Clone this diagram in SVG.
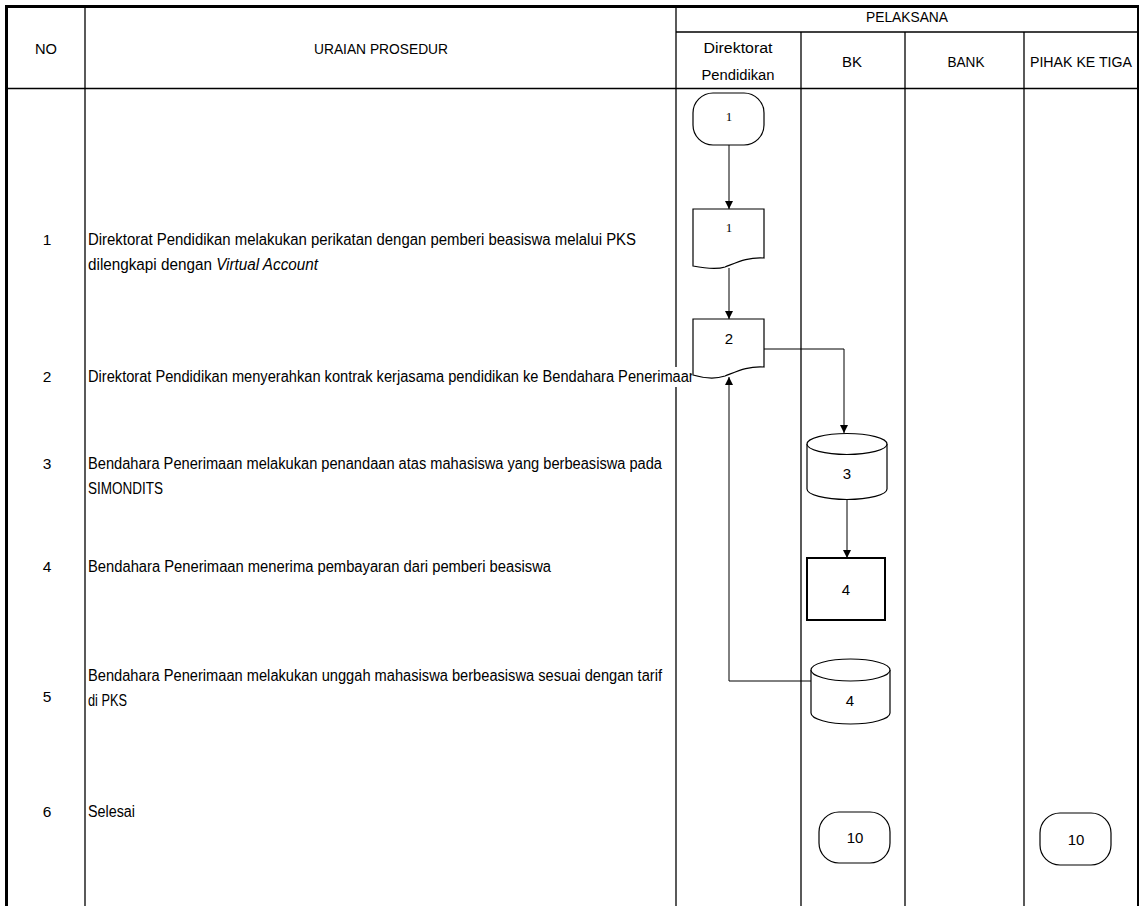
<svg xmlns="http://www.w3.org/2000/svg" width="1141" height="906" viewBox="0 0 1141 906">
<style>
.grid{stroke:#000;stroke-width:1.3;fill:none}
.frame{stroke:#000;stroke-width:3;fill:none}
.t{font-family:"Liberation Sans",Arial,sans-serif;font-size:16px;fill:#000}
.h{font-family:"Liberation Sans",Arial,sans-serif;font-size:15.5px;fill:#000;text-anchor:middle}
.ns{font-family:"Liberation Serif","Times New Roman",serif;font-size:13px;fill:#000;text-anchor:middle}
.nn{font-family:"Liberation Sans",Arial,sans-serif;font-size:15px;fill:#000;text-anchor:middle}
.shape{fill:#fff;stroke:#000;stroke-width:1.2}
.conn{stroke:#000;stroke-width:1;fill:none}
</style>
<defs>
<marker id="arr" viewBox="0 0 10 10" refX="10" refY="5" markerWidth="8" markerHeight="8" markerUnits="userSpaceOnUse" orient="auto">
<path d="M0,0 L10,5 L0,10 Z" fill="#000"/>
</marker>
<clipPath id="clipRow2"><rect x="85" y="360" width="607" height="35"/></clipPath>
</defs>
<rect width="1141" height="906" fill="#fff"/>
<g id="table">
<line class="grid" x1="85" y1="6" x2="85" y2="906"/>
<line class="grid" x1="676" y1="6" x2="676" y2="367"/>
<line class="grid" x1="676" y1="387" x2="676" y2="906"/>
<line class="grid" x1="801" y1="32" x2="801" y2="906"/>
<line class="grid" x1="905" y1="32" x2="905" y2="906"/>
<line class="grid" x1="1024" y1="32" x2="1024" y2="906"/>
<line class="grid" x1="676" y1="32" x2="1138" y2="32"/>
<line class="grid" x1="6" y1="88.5" x2="1138" y2="88.5"/>
<line class="frame" x1="6.5" y1="5" x2="6.5" y2="906"/>
<line class="frame" x1="5" y1="6.5" x2="1139" y2="6.5"/>
<line class="grid" x1="1138" y1="5" x2="1138" y2="906" style="stroke-width:2"/>
<text class="h" x="46" y="54" textLength="22" lengthAdjust="spacingAndGlyphs">NO</text>
<text class="h" x="381" y="54" textLength="134" lengthAdjust="spacingAndGlyphs">URAIAN PROSEDUR</text>
<text class="h" x="907" y="22" textLength="82" lengthAdjust="spacingAndGlyphs">PELAKSANA</text>
<text class="h" x="738" y="53" textLength="69" lengthAdjust="spacingAndGlyphs">Direktorat</text>
<text class="h" x="738" y="80" textLength="73" lengthAdjust="spacingAndGlyphs">Pendidikan</text>
<text class="h" x="852" y="67" textLength="20" lengthAdjust="spacingAndGlyphs">BK</text>
<text class="h" x="966" y="67" textLength="37" lengthAdjust="spacingAndGlyphs">BANK</text>
<text class="h" x="1081" y="67" textLength="102" lengthAdjust="spacingAndGlyphs">PIHAK KE TIGA</text>
</g>
<g id="rows">
<text class="h" x="47" y="245">1</text>
<text class="t" x="88" y="245" textLength="548" lengthAdjust="spacingAndGlyphs">Direktorat Pendidikan melakukan perikatan dengan pemberi beasiswa melalui PKS</text>
<text class="t" x="88" y="270" textLength="230" lengthAdjust="spacingAndGlyphs">dilengkapi dengan <tspan font-style="italic">Virtual Account</tspan></text>
<text class="h" x="47" y="382">2</text>
<rect x="676" y="367" width="17" height="20" fill="#fff"/>
<text class="t" x="88" y="382" textLength="609" lengthAdjust="spacingAndGlyphs" clip-path="url(#clipRow2)">Direktorat Pendidikan menyerahkan kontrak kerjasama pendidikan ke Bendahara Penerimaan</text>
<text class="h" x="47" y="469">3</text>
<text class="t" x="88" y="469" textLength="574" lengthAdjust="spacingAndGlyphs">Bendahara Penerimaan melakukan penandaan atas mahasiswa yang berbeasiswa pada</text>
<text class="t" x="88" y="494" textLength="75" lengthAdjust="spacingAndGlyphs">SIMONDITS</text>
<text class="h" x="47" y="572">4</text>
<text class="t" x="88" y="572" textLength="463" lengthAdjust="spacingAndGlyphs">Bendahara Penerimaan menerima pembayaran dari pemberi beasiswa</text>
<text class="h" x="47" y="702">5</text>
<text class="t" x="88" y="681" textLength="574" lengthAdjust="spacingAndGlyphs">Bendahara Penerimaan melakukan unggah mahasiswa berbeasiswa sesuai dengan tarif</text>
<text class="t" x="88" y="706" textLength="39" lengthAdjust="spacingAndGlyphs">di PKS</text>
<text class="h" x="47" y="817">6</text>
<text class="t" x="88" y="817" textLength="47" lengthAdjust="spacingAndGlyphs">Selesai</text>
</g>
<g id="connectors">
<line class="conn" x1="729" y1="145" x2="729" y2="209" marker-end="url(#arr)"/>
<line class="conn" x1="729" y1="268" x2="729" y2="319" marker-end="url(#arr)"/>
<polyline class="conn" points="764,349 844,349 844,433" marker-end="url(#arr)"/>
<line class="conn" x1="847" y1="500" x2="847" y2="558" marker-end="url(#arr)"/>
<polyline class="conn" points="811,681 729,681 729,377" marker-end="url(#arr)"/>
</g>
<g id="n-start">
<rect class="shape" x="693" y="93" width="71" height="52" rx="20" ry="20"/>
<text class="ns" x="729" y="121">1</text>
</g>
<g id="n-doc1">
<path class="shape" d="M693,209 H764 V258 C748,257 738,262 725,267 C716,270 703,268 693,266 Z"/>
<text class="ns" x="729" y="232">1</text>
</g>
<g id="n-doc2">
<path class="shape" d="M693,319 H764 V367 C748,366 738,371 725,376 C716,379 703,378 693,375 Z"/>
<text class="nn" x="729" y="344">2</text>
</g>
<g id="n-db3">
<path class="shape" d="M807,444 A40,10.5 0 0 1 887,444 V489 A40,10.5 0 0 1 807,489 Z"/>
<path class="shape" d="M807,444 A40,10.5 0 0 0 887,444" fill="none"/>
<text class="nn" x="847" y="479">3</text>
</g>
<g id="n-box4">
<rect x="807" y="558" width="78" height="62" fill="#fff" stroke="#000" stroke-width="2"/>
<text class="nn" x="846" y="595">4</text>
</g>
<g id="n-db4">
<path class="shape" d="M811,670 A39.5,11 0 0 1 890,670 V713 A39.5,11 0 0 1 811,713 Z"/>
<path class="shape" d="M811,670 A39.5,11 0 0 0 890,670" fill="none"/>
<text class="nn" x="850" y="706">4</text>
</g>
<g id="n-end-bk">
<rect class="shape" x="819" y="812" width="71" height="51" rx="20" ry="20"/>
<text class="nn" x="855" y="843">10</text>
</g>
<g id="n-end-pihak">
<rect class="shape" x="1040" y="813" width="71" height="52" rx="20" ry="20"/>
<text class="nn" x="1076" y="845">10</text>
</g>
</svg>
